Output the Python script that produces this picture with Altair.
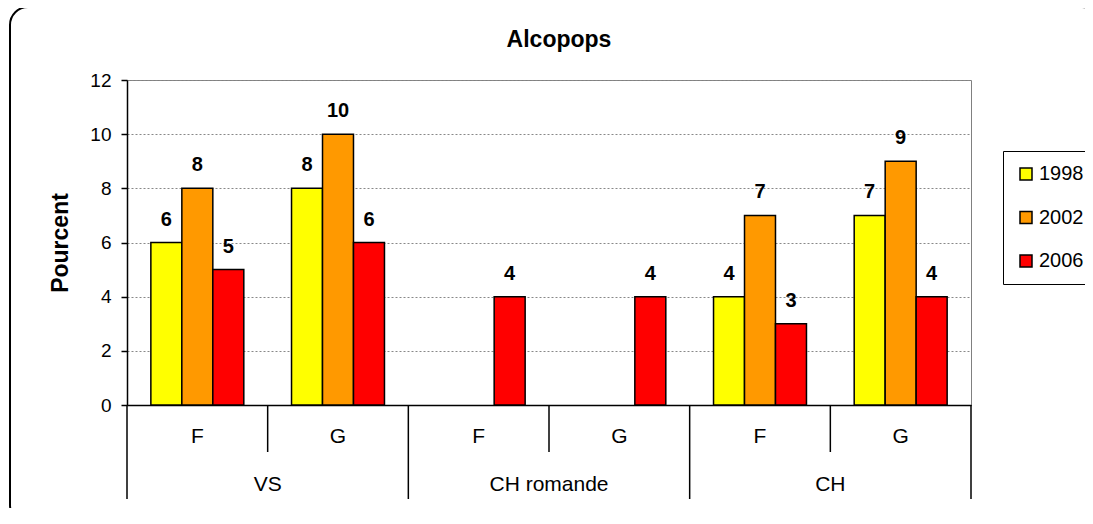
import altair as alt
import pandas as pd

regions = ["VS", "VS", "CH romande", "CH romande", "CH", "CH"]
sexes = ["F", "G", "F", "G", "F", "G"]
years = ["1998", "2002", "2006"]
v1998 = [6, 8, None, None, 4, 7]
v2002 = [8, 10, None, None, 7, 9]
v2006 = [5, 6, 4, 4, 3, 4]
colors = ["#FFFF00", "#FF9900", "#FF0000"]
y_ticks = [0, 2, 4, 6, 8, 10, 12]
title_text = "Alcopops"

cats = [f"{r}|{s}" for r, s in zip(regions, sexes)]

rows = []
for i, c in enumerate(cats):
    for y, vals in zip(years, [v1998, v2002, v2006]):
        if vals[i] is not None:
            rows.append({"cat": c, "year": y, "value": vals[i]})
bars_df = pd.DataFrame(rows)

sex_df = pd.DataFrame({"cat": cats, "label": sexes})
region_df = pd.DataFrame({"cat": [cats[1], cats[3], cats[5]],
                          "label": [regions[0], regions[2], regions[4]]})
long_div = pd.DataFrame({"cat": [cats[0], cats[2], cats[4]]})
long_div_end = pd.DataFrame({"cat": [cats[5]]})
short_div = pd.DataFrame({"cat": [cats[1], cats[3], cats[5]]})
frame_df = pd.DataFrame({"t": [title_text]})

FONT = "Liberation Sans"
xscale = alt.Scale(domain=cats, paddingInner=0, paddingOuter=0)
xaxis = alt.Axis(labels=False, ticks=False, title=None, grid=False,
                 domainColor="black", domainWidth=1.5)
offscale = alt.Scale(domain=years, paddingInner=0, paddingOuter=0.77)
yscale = alt.Scale(domain=[0, 12], nice=False)

frame = alt.Chart(frame_df).mark_rect(
    fill="white", fillOpacity=0, stroke="black", strokeWidth=2, cornerRadius=18
).encode(
    x=alt.value(-117), x2=alt.value(973), y=alt.value(-73), y2=alt.value(443)
)

title = alt.Chart(frame_df).mark_text(
    fontSize=23, fontWeight="bold", color="black", baseline="alphabetic",
    align="center"
).encode(x=alt.value(432), y=alt.value(-33), text="t:N")

bars = alt.Chart(bars_df).mark_bar(stroke="black", strokeWidth=1.5).encode(
    x=alt.X("cat:N", scale=xscale, axis=xaxis, sort=cats),
    xOffset=alt.XOffset("year:N", scale=offscale),
    y=alt.Y("value:Q", scale=yscale,
            axis=alt.Axis(values=y_ticks, title="Pourcent", grid=True,
                          gridColor="#888888", gridDash=[2, 2], gridWidth=1,
                          domainColor="black", domainWidth=1.5,
                          tickColor="black", tickSize=6, tickWidth=1.5,
                          labelFontSize=19, labelColor="black", labelPadding=10,
                          titleFontSize=23, titleFontWeight="bold",
                          titleColor="black", titlePadding=17)),
    color=alt.Color("year:N", scale=alt.Scale(domain=years, range=colors),
                    legend=alt.Legend(title=None, orient="none", legendX=876,
                                      legendY=71, strokeColor="black",
                                      padding=13, symbolType="square",
                                      symbolSize=144, symbolStrokeColor="black",
                                      symbolStrokeWidth=1.5, labelFontSize=20,
                                      labelColor="black", labelOffset=3,
                                      rowPadding=23.5)),
)

labels = alt.Chart(bars_df).mark_text(
    fontSize=20, fontWeight="bold", dy=-17, baseline="alphabetic", color="black"
).encode(
    x=alt.X("cat:N", scale=xscale, axis=xaxis, sort=cats),
    xOffset=alt.XOffset("year:N", scale=offscale),
    y=alt.Y("value:Q", scale=yscale),
    text=alt.Text("value:Q", format="d"),
)

rule_style = dict(color="black", strokeWidth=1.5)
long_rules = alt.Chart(long_div).mark_rule(**rule_style).encode(
    x=alt.X("cat:N", scale=xscale, axis=xaxis, bandPosition=0),
    y=alt.value(325), y2=alt.value(419))
long_rules_end = alt.Chart(long_div_end).mark_rule(**rule_style).encode(
    x=alt.X("cat:N", scale=xscale, axis=xaxis, bandPosition=1),
    y=alt.value(325), y2=alt.value(419))
short_rules = alt.Chart(short_div).mark_rule(**rule_style).encode(
    x=alt.X("cat:N", scale=xscale, axis=xaxis, bandPosition=0),
    y=alt.value(325), y2=alt.value(372))

sex_text = alt.Chart(sex_df).mark_text(
    fontSize=21, baseline="middle", color="black"
).encode(
    x=alt.X("cat:N", scale=xscale, axis=xaxis, bandPosition=0.5),
    y=alt.value(357), text="label:N")

region_text = alt.Chart(region_df).mark_text(
    fontSize=21, baseline="middle", color="black"
).encode(
    x=alt.X("cat:N", scale=xscale, axis=xaxis, bandPosition=0),
    y=alt.value(405), text="label:N")

chart = alt.layer(
    frame, title, bars, labels, long_rules, long_rules_end, short_rules,
    sex_text, region_text
).properties(
    width=844, height=325,
    autosize=alt.AutoSizeParams(type="none"),
    padding={"left": 119, "top": 72, "right": 114, "bottom": 103},
).configure(font=FONT).configure_view(
    stroke="#808080", strokeWidth=1
)

chart.save("out.html", embed_options={"renderer": "svg", "actions": False})
